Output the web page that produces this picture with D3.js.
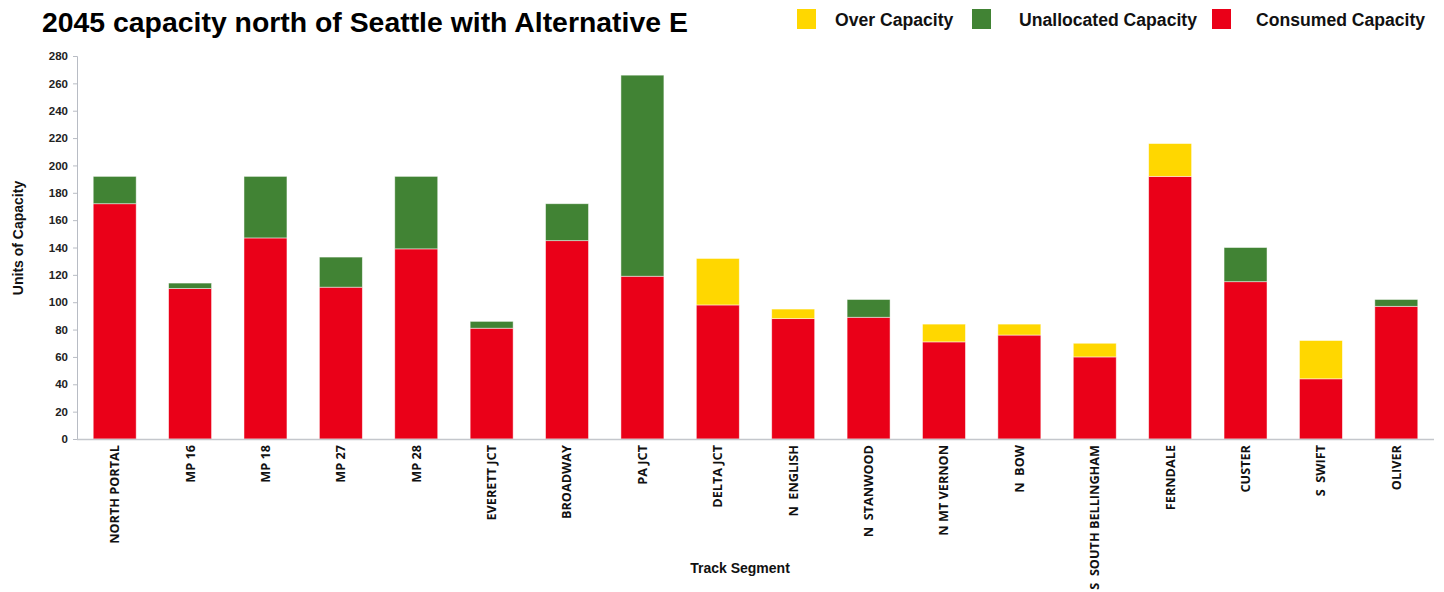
<!DOCTYPE html>
<html>
<head>
<meta charset="utf-8">
<script src="https://cdn.jsdelivr.net/npm/d3@7"></script>
<style>
  body { margin: 0; background: #fff; }
  text { font-family: "Liberation Sans", Arial, sans-serif; }
</style>
</head>
<body>
<svg id="chart" width="1444" height="592"></svg>
<script>
// Track segments and capacity values
const segments = [
  'NORTH PORTAL', 'MP 16', 'MP 18', 'MP 27', 'MP 28', 'EVERETT JCT', 'BROADWAY',
  'PA JCT', 'DELTA JCT', 'N  ENGLISH', 'N  STANWOOD', 'N MT VERNON', 'N  BOW',
  'S  SOUTH BELLINGHAM', 'FERNDALE', 'CUSTER', 'S  SWIFT', 'OLIVER'
];
const consumed    = [172, 110, 147, 111, 139, 81, 145, 119, 98, 88, 89, 71, 76, 60, 192, 115, 44, 97];
const unallocated = [20, 4, 45, 22, 53, 5, 27, 147, 0, 0, 13, 0, 0, 0, 0, 25, 0, 5];
const over        = [0, 0, 0, 0, 0, 0, 0, 0, 34, 7, 0, 13, 8, 10, 24, 0, 28, 0];
const yTicks = d3.range(0, 281, 20);

const series = [
  { key: 'consumed', label: 'Consumed Capacity', color: '#ea0018', values: consumed },
  { key: 'unallocated', label: 'Unallocated Capacity', color: '#418334', values: unallocated },
  { key: 'over', label: 'Over Capacity', color: '#ffd700', values: over }
];

const rows = segments.map((name, i) => ({
  name,
  consumed: consumed[i],
  unallocated: unallocated[i],
  over: over[i]
}));

const margin = { left: 77, right: 10, top: 56, bottom: 153 };
const svg = d3.select('#chart');

const x = d3.scaleBand()
  .domain(segments)
  .range([margin.left, 1434])
  .paddingInner(0.43)
  .paddingOuter(0.215);

const y = d3.scaleLinear()
  .domain([0, 280])
  .range([439, 56]);

const stack = d3.stack().keys(series.map((s) => s.key));
const layers = stack(rows);

svg.append('g')
  .selectAll('g')
  .data(layers)
  .join('g')
  .attr('fill', (d) => series.find((s) => s.key === d.key).color)
  .selectAll('rect')
  .data((d) => d)
  .join('rect')
  .attr('x', (d) => x(d.data.name))
  .attr('width', x.bandwidth())
  .attr('y', (d) => y(d[1]))
  .attr('height', (d) => y(d[0]) - y(d[1]))
  .attr('stroke', 'rgba(255,255,255,0.6)')
  .attr('stroke-width', 0.8)
  .attr('display', (d) => (d[1] - d[0] > 0 ? null : 'none'));

// Y axis
const yAxis = svg.append('g')
  .attr('transform', `translate(${margin.left},0)`)
  .call(d3.axisLeft(y).tickValues(yTicks).tickSize(4).tickPadding(5));
yAxis.select('.domain').attr('stroke', '#b8bcc4');
yAxis.selectAll('.tick line').attr('stroke', '#b8bcc4');
yAxis.selectAll('.tick text')
  .attr('fill', '#222')
  .style('font-size', '11.5px')
  .style('font-weight', 'bold');

// X axis
const xAxis = svg.append('g')
  .attr('transform', 'translate(0,439)')
  .call(d3.axisBottom(x).tickSize(0).tickSizeOuter(0).tickPadding(6));
xAxis.select('.domain').attr('d', `M${margin.left},0.5H1434`).attr('stroke', '#c4c7cc').attr('stroke-width', 1.5);
xAxis.selectAll('.tick text')
  .attr('fill', '#111')
  .attr('transform', 'rotate(-90)')
  .attr('text-anchor', 'end')
  .attr('x', -6)
  .attr('y', 0)
  .attr('dy', '0.35em')
  .style('font-family', '"Open Sans", sans-serif')
  .style('font-size', '12.7px')
  .style('font-weight', 'bold')
  .style('white-space', 'pre');

// Axis titles
svg.append('text')
  .attr('transform', 'translate(23,238) rotate(-90)')
  .attr('text-anchor', 'middle')
  .style('font-size', '14px')
  .style('font-weight', 'bold')
  .attr('fill', '#111')
  .text('Units of Capacity');

svg.append('text')
  .attr('x', 740)
  .attr('y', 573)
  .attr('text-anchor', 'middle')
  .style('font-size', '14px')
  .style('font-weight', 'bold')
  .attr('fill', '#111')
  .text('Track Segment');

// Title
svg.append('text')
  .attr('x', 42)
  .attr('y', 32)
  .style('font-size', '28.4px')
  .style('font-weight', 'bold')
  .attr('fill', '#000')
  .text('2045 capacity north of Seattle with Alternative E');

// Legend
const legendItems = [
  { label: 'Over Capacity', color: '#ffd700', x: 797, tx: 835 },
  { label: 'Unallocated Capacity', color: '#418334', x: 972, tx: 1019 },
  { label: 'Consumed Capacity', color: '#ea0018', x: 1212, tx: 1256 }
];
const legend = svg.append('g');
legend.selectAll('rect')
  .data(legendItems)
  .join('rect')
  .attr('x', (d) => d.x)
  .attr('y', 9)
  .attr('width', 19)
  .attr('height', 20)
  .attr('fill', (d) => d.color);
legend.selectAll('text')
  .data(legendItems)
  .join('text')
  .attr('x', (d) => d.tx)
  .attr('y', 26)
  .style('font-size', '17.6px')
  .style('font-weight', 'bold')
  .attr('fill', '#111')
  .text((d) => d.label);
</script>
</body>
</html>
